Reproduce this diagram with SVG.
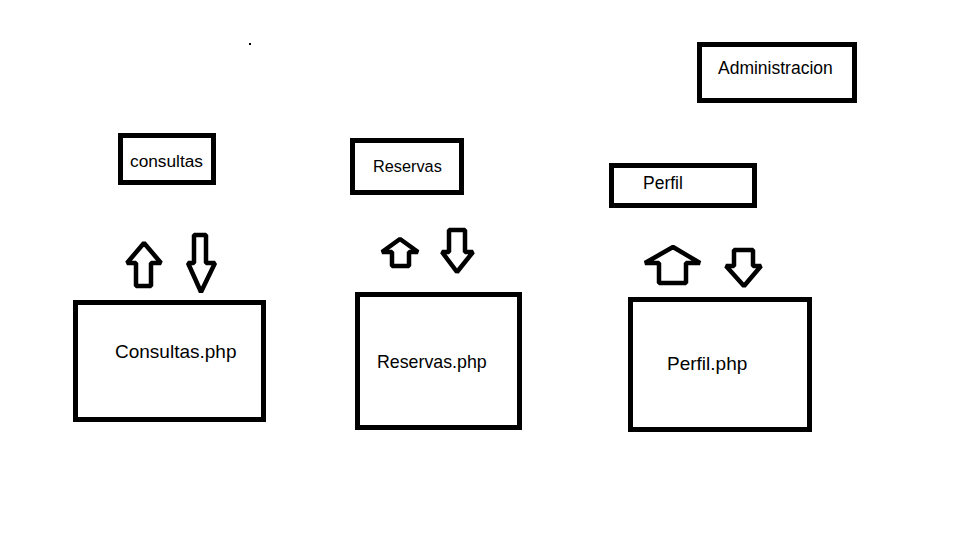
<svg xmlns="http://www.w3.org/2000/svg" width="960" height="540" viewBox="0 0 960 540">
<style>
.box{fill:#fff;stroke:#000;stroke-width:5}
.arr{fill:#fff;stroke:#000;stroke-width:4.5;stroke-linejoin:bevel}
text{font-family:"Liberation Sans",Arial,sans-serif;fill:#000}
</style>
<rect width="960" height="540" fill="#fff"/>
<rect x="249" y="43" width="2" height="2" fill="#000"/>
<g id="admin"><rect class="box" x="699.5" y="44.5" width="155" height="56"/><text x="718" y="74" font-size="17.5">Administracion</text></g>
<g id="consultas"><rect class="box" x="120.5" y="135.5" width="93" height="47"/><text x="130" y="167" font-size="17.3">consultas</text></g>
<g id="reservas"><rect class="box" x="352.5" y="140.5" width="109" height="52"/><text x="373" y="172" font-size="16.3">Reservas</text></g>
<g id="perfil"><rect class="box" x="611.5" y="165.5" width="143" height="40"/><text x="643" y="189" font-size="17.5">Perfil</text></g>
<g id="consultas-php"><rect class="box" x="75.5" y="302.5" width="188" height="117"/><text x="115" y="358" font-size="19">Consultas.php</text></g>
<g id="reservas-php"><rect class="box" x="357.5" y="294.5" width="162" height="133"/><text x="377" y="368" font-size="17.8">Reservas.php</text></g>
<g id="perfil-php"><rect class="box" x="630.5" y="299.5" width="179" height="130"/><text x="667" y="370" font-size="19">Perfil.php</text></g>
<g id="connectors">
<polygon class="arr" points="144,243 161,263 151,263 151,286 136,286 136,263 127,263"/>
<polygon class="arr" points="194,235 206,235 206,263 215,263 201,292 188,263 194,263"/>
<polygon class="arr" points="400,239 418,252 409,252 409,266 392,266 392,252 382,252"/>
<polygon class="arr" points="449,230 465,230 465,252 473,252 457,272 442,252 449,252"/>
<polygon class="arr" points="673,247 700,263 686,263 686,283 659,283 659,263 645,263"/>
<polygon class="arr" points="734,250 753,250 753,266 761,266 744,286 726,266 734,266"/>
</g>
</svg>
